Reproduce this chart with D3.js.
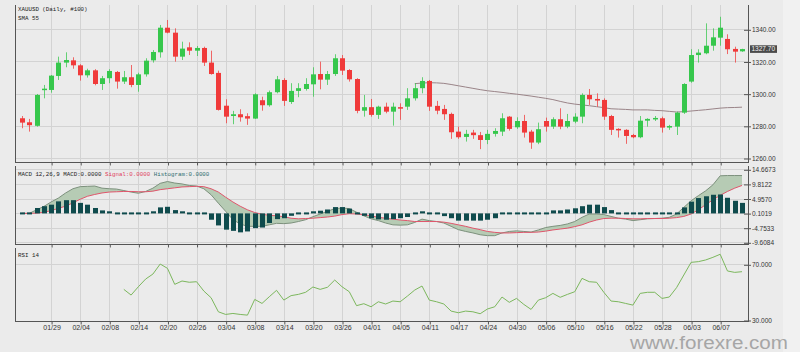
<!DOCTYPE html>
<html><head><meta charset="utf-8">
<script src="https://cdn.jsdelivr.net/npm/d3@7"></script>
<style>body{margin:0;background:#ebebeb} svg{display:block}</style>
</head><body>
<svg id="c" width="800" height="352"></svg>
<script>
// ---------- DATA ----------
const dates = ["01/23","01/24","01/25","01/28","01/29","01/30","01/31",
"02/01","02/04","02/05","02/06","02/07","02/08","02/11","02/12","02/13","02/14","02/15","02/18","02/19","02/20","02/21","02/22","02/25","02/26","02/27","02/28",
"03/01","03/04","03/05","03/06","03/07","03/08","03/11","03/12","03/13","03/14","03/15","03/18","03/19","03/20","03/21","03/22","03/25","03/26","03/27","03/28","03/29",
"04/01","04/02","04/03","04/04","04/05","04/08","04/09","04/10","04/11","04/12","04/15","04/16","04/17","04/18","04/22","04/23","04/24","04/25","04/26","04/29","04/30",
"05/01","05/02","05/03","05/06","05/07","05/08","05/09","05/10","05/13","05/14","05/15","05/16","05/17","05/20","05/21","05/22","05/23","05/24","05/27","05/28","05/29","05/30","05/31",
"06/03","06/04","06/05","06/06","06/07","06/10","06/11","06/12"];
const dateTicks = ["01/29","02/04","02/08","02/14","02/20","02/26","03/04","03/08","03/14","03/20","03/26","04/01","04/05","04/11","04/17","04/24","04/30","05/06","05/10","05/16","05/22","05/28","06/03","06/07"];

const open = [1284.7,1282.2,1280.0,1302.3,1302.3,1311.0,1319.3,1320.7,1317.6,1311.4,
1314.5,1306.0,1309.6,1313.5,1307.5,1310.2,1305.4,1312.0,1320.7,1325.7,
1341.0,1337.9,1323.0,1328.8,1326.7,1328.4,1319.3,1312.9,1292.5,1286.1,
1287.2,1286.0,1284.5,1295.9,1292.8,1300.9,1308.5,1294.8,1301.7,1302.9,
1305.8,1312.2,1308.7,1312.2,1322.0,1314.7,1309.1,1289.4,1291.6,1286.8,
1291.9,1288.8,1291.6,1291.9,1297.1,1303.4,1307.9,1292.4,1290.5,1287.4,
1276.4,1273.1,1275.8,1274.2,1271.2,1275.0,1276.4,1285.7,1279.1,1283.0,
1276.4,1269.6,1283.0,1279.5,1284.1,1279.5,1282.6,1285.7,1299.2,1296.7,
1296.1,1286.1,1278.1,1277.5,1274.3,1272.9,1283.2,1284.3,1284.7,1278.9,
1279.5,1288.2,1307.5,1324.0,1325.1,1329.8,1334.8,1334.0,1327.8,1326.3];
const high = [1286.1,1284.3,1299.8,1305.4,1311.6,1323.0,1325.7,1322.6,1318.3,1315.5,
1315.2,1311.0,1315.2,1314.1,1314.1,1317.8,1313.0,1322.0,1327.1,1342.7,
1345.8,1340.6,1332.3,1331.9,1329.6,1329.2,1326.7,1314.3,1296.5,1289.3,
1290.3,1287.8,1300.2,1298.1,1301.9,1311.0,1309.6,1306.5,1306.5,1309.6,
1316.4,1319.9,1314.1,1324.5,1324.0,1315.2,1309.6,1299.2,1296.7,1292.5,
1294.4,1294.4,1294.0,1303.4,1306.5,1310.2,1308.5,1295.5,1293.0,1288.2,
1279.5,1277.5,1277.5,1276.2,1277.5,1278.5,1287.8,1286.1,1285.3,1286.8,
1277.5,1282.0,1285.1,1285.3,1290.9,1287.4,1287.8,1300.2,1302.9,1300.2,
1297.1,1286.8,1278.5,1277.9,1275.0,1286.1,1284.7,1286.1,1285.7,1280.6,
1288.8,1306.5,1327.6,1327.6,1343.7,1340.6,1347.8,1336.9,1329.2,1327.9];
const low = [1278.5,1276.4,1279.5,1297.1,1300.6,1308.5,1316.4,1315.5,1308.1,1310.0,
1305.2,1302.3,1306.5,1303.1,1306.0,1304.0,1301.2,1310.6,1319.3,1322.4,
1337.5,1319.9,1320.9,1324.0,1323.4,1317.2,1311.8,1289.5,1281.6,1281.0,
1282.6,1280.6,1284.3,1289.4,1291.9,1300.2,1292.4,1293.6,1297.8,1301.9,
1298.1,1302.7,1305.4,1311.0,1311.6,1307.5,1287.8,1285.7,1285.7,1284.3,
1287.8,1280.1,1283.7,1289.9,1295.7,1300.2,1289.3,1287.2,1283.7,1271.9,
1271.9,1270.2,1271.9,1265.5,1268.6,1273.3,1273.7,1277.0,1278.1,1272.7,
1265.7,1268.6,1276.4,1278.1,1277.9,1278.5,1281.6,1281.6,1293.0,1291.9,
1283.7,1274.3,1272.7,1268.8,1272.3,1272.3,1279.5,1283.0,1275.8,1277.5,
1274.3,1287.4,1306.8,1319.3,1324.5,1326.7,1329.8,1324.6,1319.3,1326.0];
const close = [1282.0,1280.4,1299.2,1303.1,1311.2,1319.3,1320.9,1317.6,1311.4,1314.5,
1306.0,1309.6,1314.1,1307.5,1310.2,1305.4,1312.0,1320.5,1325.9,1341.0,
1337.9,1323.0,1328.0,1326.7,1328.4,1319.3,1312.2,1289.9,1285.7,1287.2,
1285.3,1284.5,1299.6,1292.8,1300.9,1308.9,1295.5,1301.7,1303.4,1306.0,
1312.0,1308.7,1312.2,1322.0,1314.3,1308.9,1289.3,1291.6,1286.8,1291.9,
1288.8,1291.9,1291.1,1297.1,1303.4,1307.9,1291.9,1289.4,1287.2,1276.0,
1272.9,1275.0,1274.2,1271.2,1275.0,1276.8,1284.7,1278.1,1283.0,1275.8,
1269.6,1277.9,1279.5,1284.1,1279.5,1283.0,1285.7,1299.2,1296.5,1295.7,
1285.7,1277.5,1277.3,1273.7,1272.9,1283.2,1284.3,1284.9,1278.9,1279.9,
1288.2,1306.0,1324.0,1325.5,1329.8,1335.0,1341.0,1327.6,1326.1,1327.7];

const sma55 = [null,null,null,null,null,null,null,null,null,null,
null,null,null,null,null,null,null,null,null,null,
null,null,null,null,null,null,null,null,null,null,
null,null,null,null,null,null,null,null,null,null,
null,null,null,null,null,null,null,null,null,null,
null,null,null,null,1306.2,1306.6,1306.8,1306.7,1306.4,1305.7,
1304.9,1304.1,1303.3,1302.5,1301.8,1301.3,1300.8,1300.2,1299.7,1299.1,
1298.5,1297.8,1297.1,1296.3,1295.2,1294.2,1293.5,1293.0,1292.5,1291.9,
1291.3,1290.6,1290.4,1290.2,1289.9,1289.9,1289.9,1289.6,1289.4,1289.0,
1288.6,1288.8,1289.2,1289.6,1290.0,1290.5,1291.0,1291.3,1291.4,1291.6];

const macdLine = [0,0,1.2,2.3,3.8,5.1,6.8,8.2,8.9,9.0,
9.1,8.4,8.2,8.1,7.6,7.1,6.7,7.3,8.4,10.0,
10.6,10.1,9.8,9.3,9.1,8.2,6.2,3.4,0.7,-2.1,
-3.5,-4.3,-4.3,-4.3,-3.8,-3.3,-3.4,-3.2,-2.7,-2.1,
-1.1,-0.2,0.7,1.6,1.8,1.6,0.4,-0.8,-1.8,-2.4,
-3.2,-3.8,-3.9,-3.8,-3.0,-1.9,-2.4,-2.7,-3.2,-4.3,
-5.4,-6.0,-6.5,-7.1,-7.4,-7.4,-6.5,-6.0,-5.8,-6.0,
-6.2,-5.5,-4.7,-4.3,-4.0,-3.5,-2.7,-1.3,-0.2,-0.2,
-0.4,-1.0,-1.6,-1.9,-2.4,-2.1,-1.8,-1.7,-1.6,-1.3,
-0.2,2.0,4.2,5.9,7.5,9.5,12.5,12.6,12.6,12.6];
const signalLine = [0,0,0.1,0.4,0.9,1.7,2.4,3.5,4.7,5.7,
6.3,6.8,7.1,7.2,7.3,7.3,7.2,7.2,7.4,7.9,
8.2,8.5,8.8,8.9,9.0,8.9,8.2,7.1,5.4,3.8,
2.4,1.2,0.3,-0.3,-0.6,-0.8,-1.1,-1.6,-1.8,-1.7,
-1.6,-1.4,-1.2,-0.9,-0.4,-0.1,-0.2,-0.4,-0.8,-1.3,
-1.6,-1.9,-2.2,-2.4,-2.7,-2.7,-2.7,-2.7,-2.9,-3.3,
-3.8,-4.3,-4.9,-5.4,-6.0,-6.3,-6.5,-6.5,-6.4,-6.3,
-6.3,-6.2,-5.9,-5.5,-5.2,-4.9,-4.4,-3.8,-2.9,-2.2,
-1.7,-1.6,-1.6,-1.7,-1.8,-1.8,-1.7,-1.7,-1.7,-1.6,
-1.4,-1.0,-0.2,1.2,2.9,4.5,6.0,7.3,8.4,9.3];
const histogram = [0,0.2,1.8,2.4,2.9,4.0,4.4,4.4,3.5,2.9,
1.8,1.0,0.7,0.2,0,-0.2,-0.3,-0.3,0.7,2.0,
2.2,1.1,0.7,0.3,0,-0.4,-2.1,-4.0,-5.4,-5.8,
-6.3,-6.0,-4.9,-4.7,-3.2,-1.9,-1.6,-0.8,-0.2,0,
0.7,0.9,1.3,2.1,2.1,1.6,-0.2,-0.8,-1.6,-2.0,
-2.1,-1.9,-1.6,-1.2,-0.2,0.7,0,-0.2,-0.9,-1.6,
-2.4,-2.4,-2.4,-2.4,-2.1,-1.6,-0.2,-0.1,0.1,-0.1,
-0.1,0,0.6,1.0,1.0,1.3,1.7,2.4,2.9,2.9,
2.1,1.1,0,-0.1,-0.4,-0.2,-0.1,0,0,0,
0.4,2.0,3.9,5.1,5.7,6.2,6.3,5.2,4.2,3.5];

const rsi14 = [null,null,null,null,null,null,null,null,null,null,
null,null,null,null,52.0,47.9,53.9,59.4,63.0,70.2,
67.1,55.6,58.0,57.1,57.5,50.8,46.0,35.9,34.0,34.7,
34.0,33.5,44.8,41.9,46.7,51.3,44.3,47.5,48.4,49.9,
53.7,52.0,53.5,58.7,53.9,50.3,40.3,41.7,39.5,43.1,
41.5,43.6,43.1,47.2,51.5,54.4,44.3,43.1,41.5,36.4,
35.2,36.4,35.9,34.5,37.9,39.5,46.5,42.7,45.5,41.2,
37.6,44.3,46.0,49.1,46.3,48.4,50.3,59.9,57.5,57.1,
49.9,43.6,43.1,41.9,40.7,49.1,49.9,49.9,45.5,46.5,
53.2,62.3,71.4,71.9,73.1,75.0,77.2,65.2,64.2,64.7];

const priceTicks = [1260,1280,1300,1320,1340];
const macdTicks = [-9.6084,-4.7533,0.1019,4.9570,9.8122,14.6673];
const rsiTicks = [30,70];
const lastPrice = 1327.70;

// ---------- DRAW ----------
const svg = d3.select('#c');
const L = 15, R = 748;
const P = [{top:5,bottom:162},{top:166,bottom:244},{top:248,bottom:321}];
const x = d3.scalePoint().domain(dates).range([22, 742]);
const yP = d3.scaleLinear().domain([1260,1340]).range([158,29.3]);
const yM = d3.scaleLinear().domain([-9.6084,14.6673]).range([242.3,169.3]);
const yR = d3.scaleLinear().domain([30,70]).range([320,264.3]);

svg.append('rect').attr('width',800).attr('height',352).attr('fill','#ebebeb');
svg.append('rect').attr('x',783).attr('width',17).attr('height',352).attr('fill','#f1f1f1');

const grid = svg.append('g').attr('stroke','#d3d3d3').attr('stroke-width',1);
P.forEach(p=>{
  dateTicks.forEach(d=>{
    const xx = Math.round(x(d))+0.5;
    grid.append('line').attr('x1',xx).attr('x2',xx).attr('y1',p.top).attr('y2',p.bottom);
  });
});
priceTicks.forEach(v=>{const yy=Math.round(yP(v))+0.5; grid.append('line').attr('x1',L).attr('x2',R).attr('y1',yy).attr('y2',yy);});
macdTicks.forEach(v=>{const yy=Math.round(yM(v))+0.5; grid.append('line').attr('x1',L).attr('x2',R).attr('y1',yy).attr('y2',yy);});
grid.append('line').attr('x1',L).attr('x2',R).attr('y1',Math.round(yR(70))+0.5).attr('y2',Math.round(yR(70))+0.5);

// SMA
const idx = d3.range(dates.length);
svg.append('path').datum(idx.filter(i=>sma55[i]!=null))
  .attr('fill','none').attr('stroke','#9a8488').attr('stroke-width',1)
  .attr('d', d3.line().x(i=>x(dates[i])).y(i=>yP(sma55[i])));

// candles
const cg = svg.append('g');
idx.forEach(i=>{
  const up = close[i] >= open[i];
  const col = up ? '#36c74c' : '#f03a3a';
  const cx = Math.round(x(dates[i]));
  cg.append('line').attr('x1',cx+0.5).attr('x2',cx+0.5)
    .attr('y1',yP(high[i])).attr('y2',yP(low[i])).attr('stroke',col).attr('stroke-opacity',0.75);
  const top = yP(Math.max(open[i],close[i])), bot = yP(Math.min(open[i],close[i]));
  cg.append('rect').attr('x',cx-2).attr('width',5).attr('y',top).attr('height',Math.max(1.5,bot-top)).attr('fill',col);
});

// MACD
const mg = svg.append('g');
mg.append('path').datum(idx).attr('fill','#b6cbb4').attr('stroke','none')
  .attr('d', d3.area().x(i=>x(dates[i])).y0(i=>yM(signalLine[i])).y1(i=>yM(macdLine[i])));
mg.append('path').datum(idx).attr('fill','none').attr('stroke','#7d917d').attr('stroke-width',1)
  .attr('d', d3.line().x(i=>x(dates[i])).y(i=>yM(macdLine[i])));
mg.append('path').datum(idx).attr('fill','none').attr('stroke','#e0566c').attr('stroke-width',1)
  .attr('d', d3.line().x(i=>x(dates[i])).y(i=>yM(signalLine[i])));
idx.forEach(i=>{
  const y0 = yM(0), yv = yM(histogram[i]);
  const h = Math.abs(yv-y0);
  const cx = Math.round(x(dates[i]));
  const yy = h < 2 ? y0-1 : Math.min(y0,yv);
  mg.append('rect').attr('x',cx-2).attr('width',5).attr('y',yy).attr('height',Math.max(2,h)).attr('fill','#0f4b4d');
});

// RSI
svg.append('path').datum(idx.filter(i=>rsi14[i]!=null)).attr('fill','none')
  .attr('stroke','#7cb75d').attr('stroke-width',1)
  .attr('d', d3.line().x(i=>x(dates[i])).y(i=>yR(rsi14[i])));

// frames
const fr = svg.append('g').attr('stroke','#555').attr('stroke-width',1);
P.forEach(p=>{
  fr.append('line').attr('x1',L+0.5).attr('x2',L+0.5).attr('y1',p.top).attr('y2',p.bottom);
  fr.append('line').attr('x1',R+0.5).attr('x2',R+0.5).attr('y1',p.top).attr('y2',p.bottom);
  fr.append('line').attr('x1',L).attr('x2',R+1).attr('y1',p.bottom+0.5).attr('y2',p.bottom+0.5);
});

// bottom axes (ticks)
P.forEach((p,k)=>{
  const ax = d3.axisBottom(x).tickValues(dateTicks).tickSize(3).tickPadding(1)
    .tickFormat(k===2 ? (d=>d) : (()=>''));
  const g = svg.append('g').attr('transform',`translate(0.5,${p.bottom+0.5})`).call(ax);
  g.select('.domain').remove();
  g.selectAll('line').attr('stroke','#555');
  g.selectAll('text').attr('font-family','Liberation Sans, Arial, sans-serif').attr('font-size','7px').attr('fill','#333');
});

// right axes
function rightAxis(scale, ticks, fmt){
  const ax = d3.axisRight(scale).tickValues(ticks).tickSize(7).tickPadding(1).tickFormat(fmt);
  const g = svg.append('g').attr('transform','translate(744,0.5)').call(ax);
  g.select('.domain').remove();
  g.selectAll('line').attr('stroke','#555');
  g.selectAll('text').attr('font-family','Liberation Sans, Arial, sans-serif').attr('font-size','6.5px').attr('fill','#333');
}
rightAxis(yP, priceTicks, d=>d.toFixed(2));
rightAxis(yM, macdTicks, d=>d.toFixed(4));
rightAxis(yR, rsiTicks, d=>d.toFixed(3));

// last price tag
const ly = yP(lastPrice);
svg.append('rect').attr('x',750).attr('y',ly-3.8).attr('width',27).attr('height',7.6).attr('fill','#4a4a4a');
svg.append('text').attr('x',751.5).attr('y',ly).attr('dy','0.35em').attr('font-family','Liberation Sans, Arial, sans-serif')
  .attr('font-size','6.5px').attr('fill','#f2f2f2').text(lastPrice.toFixed(2));

// legends
const mono = 'Liberation Mono, Courier New, monospace';
svg.append('text').attr('x',18).attr('y',11).attr('font-family',mono).attr('font-size','5.8px').attr('fill','#222').text('XAUUSD (Daily, #100)');
svg.append('text').attr('x',18).attr('y',19.5).attr('font-family',mono).attr('font-size','5.8px').attr('fill','#222').text('SMA 55');
const mt = svg.append('text').attr('x',18).attr('y',176).attr('font-family',mono).attr('font-size','5.8px');
mt.append('tspan').attr('fill','#222').text('MACD 12,26,9 MACD:0.0000 ');
mt.append('tspan').attr('fill','#e0405c').text('Signal:0.0000 ');
mt.append('tspan').attr('fill','#2f6b6e').text('Histogram:0.0000');
svg.append('text').attr('x',18).attr('y',257).attr('font-family',mono).attr('font-size','5.8px').attr('fill','#222').text('RSI 14');

// watermark
svg.append('text').attr('x',788).attr('y',348.5).attr('text-anchor','end')
  .attr('font-family','Liberation Sans, Arial, sans-serif').attr('font-size','18px').attr('fill','#a6a6a6')
  .attr('textLength',158).attr('lengthAdjust','spacingAndGlyphs')
  .text('www.forexre.com');
</script>
</body></html>
